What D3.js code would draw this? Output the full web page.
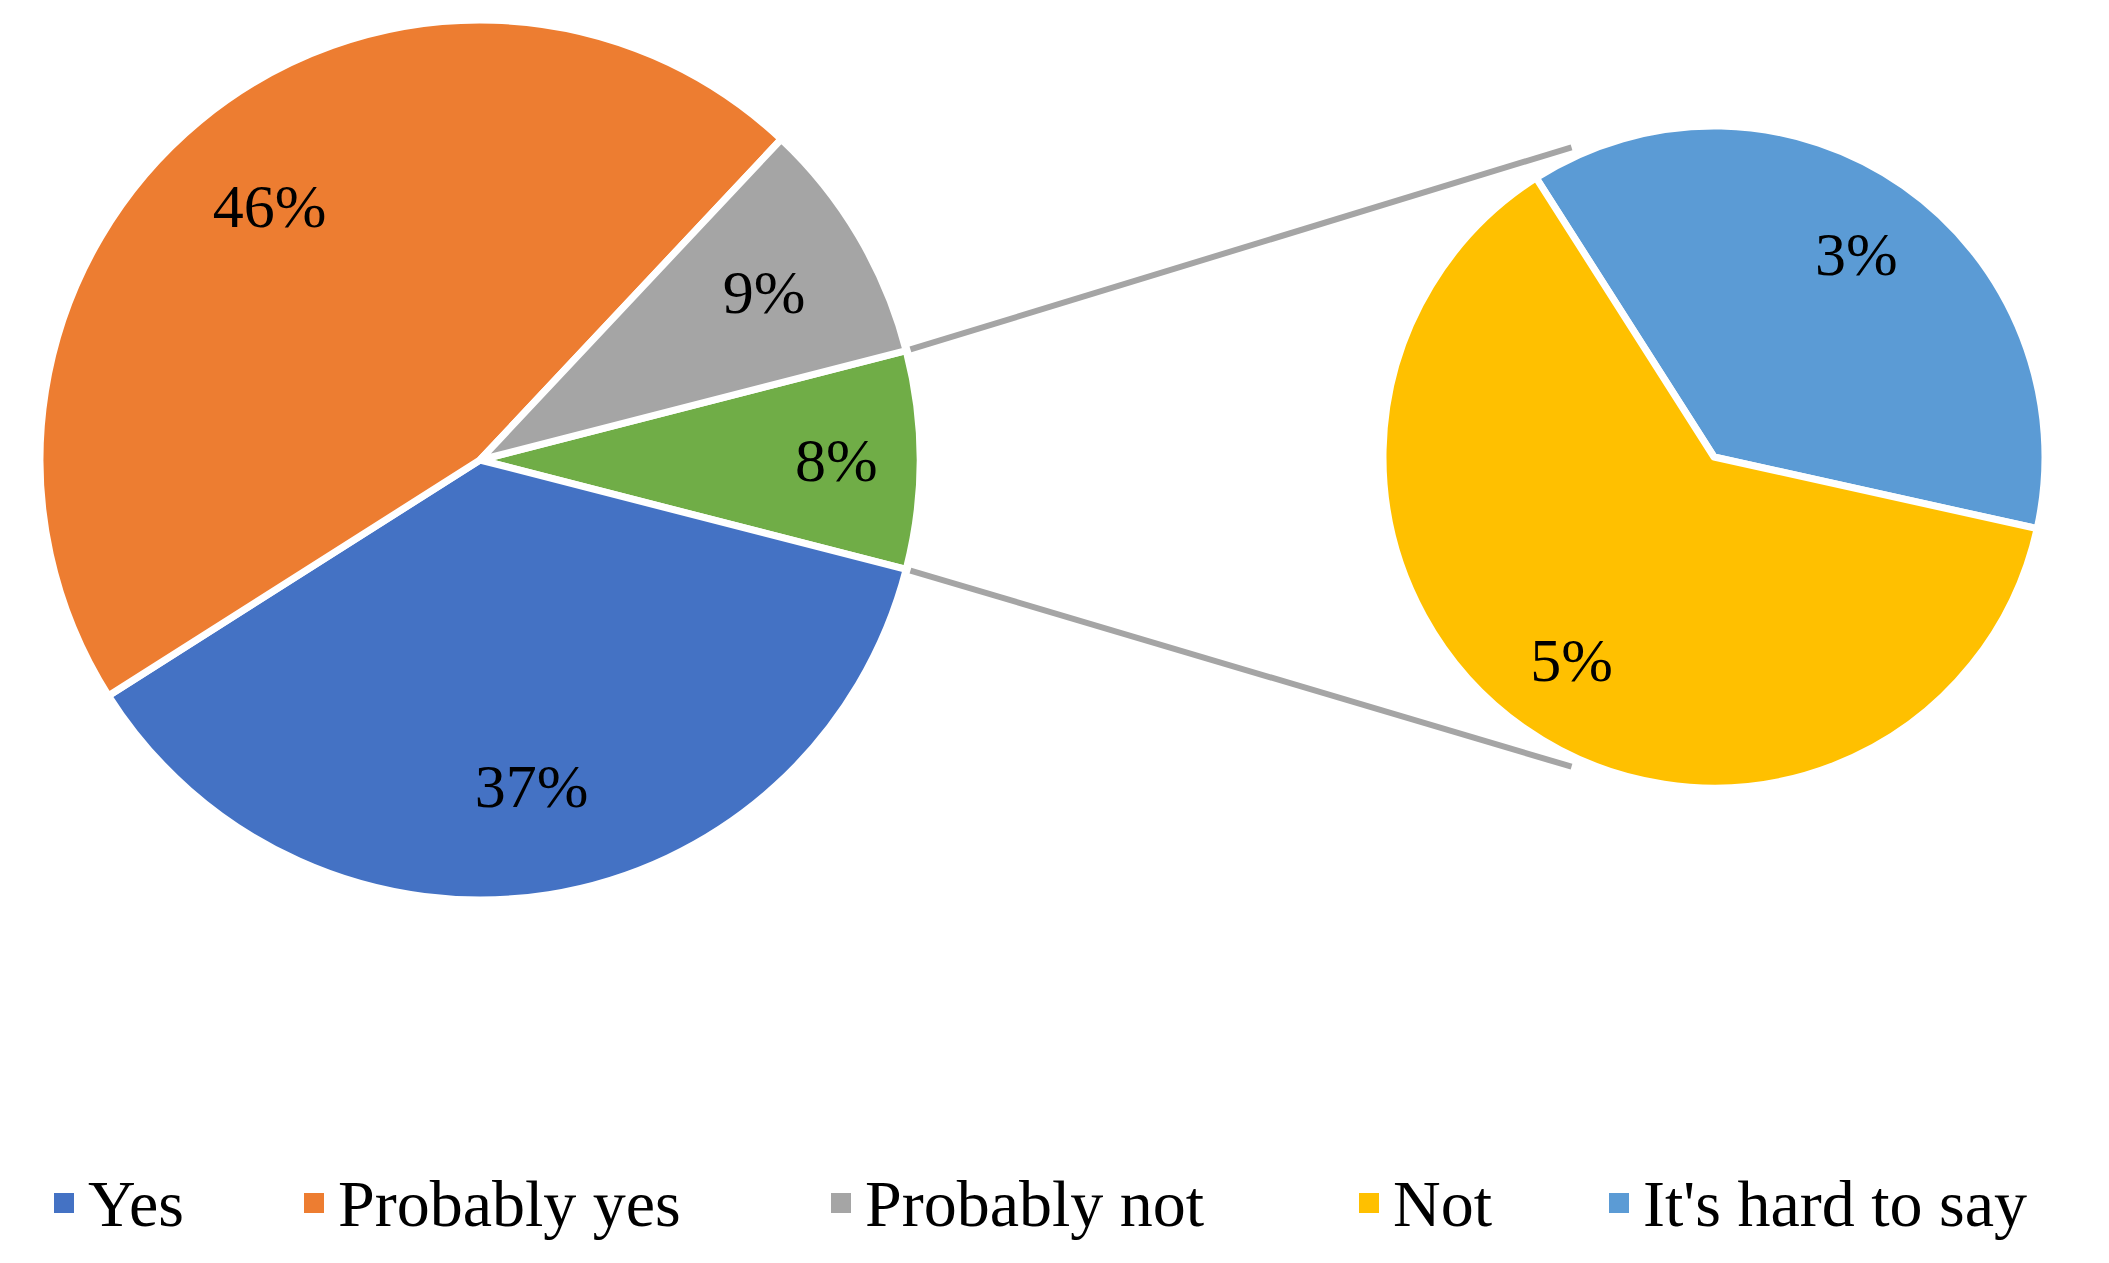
<!DOCTYPE html>
<html><head><meta charset="utf-8">
<script src="https://cdn.jsdelivr.net/npm/d3@7"></script>
<style>body{margin:0;background:#fff}</style></head>
<body><svg id="c" width="2109" height="1263"></svg>
<script>
const mainCats = ["Other", "Yes", "Probably yes", "Probably not"];
const mainVals = [8, 37, 46, 9];
const mainColors = ["#70AD47", "#4472C4", "#ED7D31", "#A5A5A5"];
const subCats = ["It's hard to say", "Not"];
const subVals = [3, 5];
const subColors = ["#5B9BD5", "#FFC000"];
const legendCats = ["Yes", "Probably yes", "Probably not", "Not", "It's hard to say"];
const legendColors = ["#4472C4", "#ED7D31", "#A5A5A5", "#FFC000", "#5B9BD5"];

const svg = d3.select("#c");
const font = "'Liberation Serif','Times New Roman',serif";
const deg = Math.PI/180;
const L = {cx:480, cy:460, r:440}, R = {cx:1714, cy:457, r:331};

const mainStart = 90*deg - (mainVals[0]/100)*Math.PI;
const pieMain = d3.pie().sort(null).value(d=>d).startAngle(mainStart).endAngle(mainStart+2*Math.PI);
const subStart = -32.5*deg;
const pieSub = d3.pie().sort(null).value(d=>d).startAngle(subStart).endAngle(subStart+2*Math.PI);

const arcL = d3.arc().innerRadius(0).outerRadius(L.r);
const arcR = d3.arc().innerRadius(0).outerRadius(R.r);
const lblL = d3.arc().innerRadius(L.r*0.75).outerRadius(L.r*0.75);
const lblR = d3.arc().innerRadius(R.r*0.75).outerRadius(R.r*0.75);

const mA = pieMain(mainVals), sA = pieSub(subVals);
// connector lines
const g0 = mA[0];
const pt = (c, r, a) => [c.cx + r*Math.sin(a), c.cy - r*Math.cos(a)];
const lines = [
  [pt(L, L.r*1.01, g0.startAngle), pt(R, R.r*1.03, -24.7*deg)],
  [pt(L, L.r*1.01, g0.endAngle), pt(R, R.r*1.03, 204.7*deg)]
];
svg.selectAll("line.c").data(lines).join("line")
  .attr("x1",d=>d[0][0]).attr("y1",d=>d[0][1]).attr("x2",d=>d[1][0]).attr("y2",d=>d[1][1])
  .attr("stroke","#A5A5A5").attr("stroke-width",6);

const gl = svg.append("g").attr("transform",`translate(${L.cx},${L.cy})`);
gl.selectAll("path").data(mA).join("path").attr("d",arcL)
  .attr("fill",(d,i)=>mainColors[i]).attr("stroke","#fff").attr("stroke-width",7).attr("stroke-linejoin","round");
gl.selectAll("text").data(mA).join("text")
  .attr("transform",(d,i)=>{const c=lblL.centroid(d); if(i===0){c[0]*=1.08;} return `translate(${c})`;})
  .attr("text-anchor","middle").attr("dominant-baseline","central")
  .attr("font-family",font).attr("font-size",62).text(d=>d.data+"%");

const gr = svg.append("g").attr("transform",`translate(${R.cx},${R.cy})`);
gr.selectAll("path").data(sA).join("path").attr("d",arcR)
  .attr("fill",(d,i)=>subColors[i]).attr("stroke","#fff").attr("stroke-width",7).attr("stroke-linejoin","round");
gr.selectAll("text").data(sA).join("text")
  .attr("transform",d=>`translate(${lblR.centroid(d)})`)
  .attr("text-anchor","middle").attr("dominant-baseline","central")
  .attr("font-family",font).attr("font-size",62).text(d=>d.data+"%");

// legend
const lg = svg.append("g");
const xs = [54, 304, 831, 1359, 1609];
legendCats.forEach((c,i)=>{
  lg.append("rect").attr("x",xs[i]).attr("y",1193).attr("width",20).attr("height",20).attr("fill",legendColors[i]);
  lg.append("text").attr("x",xs[i]+34).attr("y",1203).attr("dominant-baseline","central")
    .attr("font-family",font).attr("font-size",66).text(c);
});
</script></body></html>
